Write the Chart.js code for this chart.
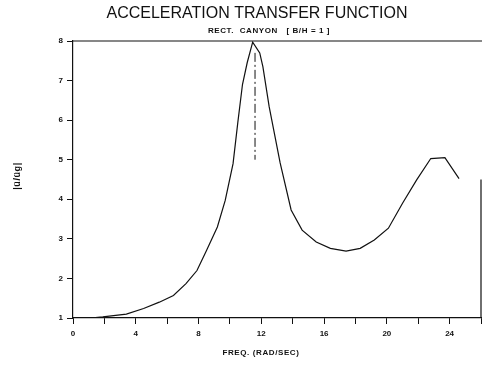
<!DOCTYPE html>
<html>
<head>
<meta charset="utf-8">
<script src="https://cdn.jsdelivr.net/npm/chart.js@4.4.0/dist/chart.umd.min.js"></script>
<style>
  html, body { margin: 0; padding: 0; background: #fff; }
  #wrap { width: 482px; height: 366px; position: relative; }
</style>
</head>
<body>
<div id="wrap"><canvas id="chart"></canvas></div>
<script>
// values
const freq = [0, 1.1, 1.9, 3.4, 4.5, 5.5, 6.4, 7.2, 7.9, 8.5, 9.2, 9.7, 10.2, 10.5, 10.8, 11.1, 11.45,
  11.9, 12.1, 12.5, 13.2, 13.9, 14.6, 15.5, 16.4, 17.4, 18.3, 19.2, 20.1, 21.0, 21.9, 22.8, 23.7, 24.6];
const amp = [1.0, 1.0, 1.03, 1.1, 1.24, 1.4, 1.57, 1.87, 2.2, 2.7, 3.3, 3.97, 4.9, 5.93, 6.9, 7.45, 7.97,
  7.7, 7.35, 6.34, 4.92, 3.73, 3.22, 2.92, 2.76, 2.69, 2.76, 2.97, 3.27, 3.9, 4.49, 5.03, 5.05, 4.52];
const markerX = [11.6, 11.6];
const markerY = [7.7, 5.0];
const xTicks = [0, 4, 8, 12, 16, 20, 24];
const yTicks = [1, 2, 3, 4, 5, 6, 7, 8];

const title = 'ACCELERATION TRANSFER FUNCTION';
const subtitle = 'RECT.  CANYON   [ B/H = 1 ]';
const xTitle = 'FREQ. (RAD/SEC)';
const yTitle = '|ü/üg|';

const ink = '#111';

// titles, top frame line and the partial right edge
const decor = {
  id: 'decor',
  afterDraw(chart) {
    const ctx = chart.ctx, a = chart.chartArea, ys = chart.scales.y;
    ctx.save();
    ctx.strokeStyle = ink; ctx.lineWidth = 1.2;
    ctx.beginPath();
    ctx.moveTo(a.left, a.top); ctx.lineTo(chart.width, a.top);
    ctx.moveTo(a.right, ys.getPixelForValue(4.5)); ctx.lineTo(a.right, a.bottom);
    ctx.stroke();

    ctx.fillStyle = ink;
    ctx.textAlign = 'center'; ctx.textBaseline = 'middle';
    ctx.font = '16px "Liberation Sans", Arial, sans-serif';
    ctx.fillText(title, 257, 14);
    ctx.font = 'bold 8px "Liberation Sans", Arial, sans-serif';
    ctx.letterSpacing = '0.6px';
    ctx.fillText(subtitle, 269, 31);
    ctx.fillText(xTitle, 261, 353);
    ctx.font = 'bold 9px "Liberation Sans", Arial, sans-serif';
    ctx.translate(18, 176); ctx.rotate(-Math.PI / 2);
    ctx.fillText(yTitle, 0, 0);
    ctx.restore();
  }
};

const tickFont = { family: '"Liberation Sans", Arial, sans-serif', size: 8, weight: 'bold' };

new Chart(document.getElementById('chart'), {
  type: 'line',
  data: {
    datasets: [
      { data: freq.map((f, i) => ({ x: f, y: amp[i] })), borderColor: ink, borderWidth: 1.2,
        pointRadius: 0, tension: 0, fill: false },
      { data: markerX.map((f, i) => ({ x: f, y: markerY[i] })), borderColor: ink, borderWidth: 1,
        borderDash: [9, 3, 2, 3], pointRadius: 0, fill: false }
    ]
  },
  options: {
    responsive: true,
    maintainAspectRatio: false,
    animation: false,
    layout: { padding: { top: 41, right: 1, left: 0, bottom: 0 } },
    plugins: { legend: { display: false }, tooltip: { enabled: false } },
    scales: {
      x: {
        type: 'linear', min: 0, max: 26,
        afterFit: s => { s.height = 48; s.paddingLeft = 0; s.paddingRight = 0; },
        ticks: { stepSize: 2, color: ink, font: tickFont, padding: 5, maxRotation: 0,
          callback: v => xTicks.includes(v) ? v : '' },
        grid: { drawOnChartArea: false, tickLength: 6, color: ink, lineWidth: 1 },
        border: { color: ink, width: 1.2 }
      },
      y: {
        min: 1, max: 8,
        afterFit: s => { s.width = 73; s.paddingTop = 0; s.paddingBottom = 0; },
        ticks: { stepSize: 1, color: ink, font: tickFont, padding: 4,
          callback: v => yTicks.includes(v) ? v : '' },
        grid: { drawOnChartArea: false, tickLength: 6, color: ink, lineWidth: 1 },
        border: { color: ink, width: 1.2 }
      }
    }
  },
  plugins: [decor]
});
</script>
</body>
</html>
